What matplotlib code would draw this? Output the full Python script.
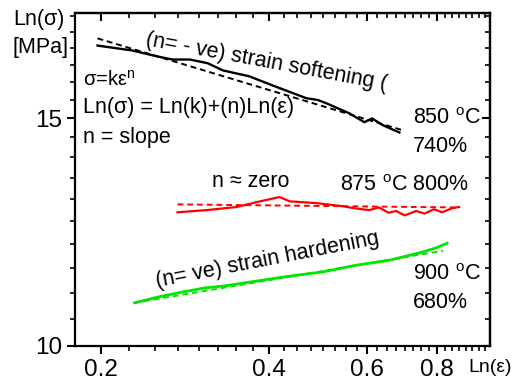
import numpy as np
import matplotlib
matplotlib.use('Agg')
import matplotlib.pyplot as plt
from matplotlib.ticker import NullFormatter

plt.rcParams['font.family'] = ['Liberation Sans', 'DejaVu Sans']

# 850 C / 740 % : strain softening
soft_strain = [0.1975, 0.228, 0.253, 0.269, 0.289, 0.311, 0.331, 0.369, 0.406,
               0.467, 0.49, 0.507, 0.557, 0.593, 0.612, 0.64, 0.685]
soft_stress = [17.08, 16.93, 16.75, 16.66, 16.66, 16.55, 16.34, 16.17, 15.91,
               15.55, 15.5, 15.41, 15.14, 14.9, 15.0, 14.82, 14.63]
soft_fit_strain = [0.1975, 0.69]
soft_fit_stress = [17.3, 14.7]

# 875 C / 800 % : n close to zero
zero_strain = [0.2746, 0.31, 0.35, 0.38, 0.418, 0.436, 0.486, 0.541, 0.57, 0.605,
               0.63, 0.655, 0.676, 0.7, 0.734, 0.76, 0.79, 0.817, 0.85, 0.876]
zero_stress = [12.69, 12.74, 12.81, 12.92, 13.04, 12.94, 12.9, 12.83, 12.78, 12.74,
               12.8, 12.68, 12.72, 12.62, 12.72, 12.66, 12.76, 12.69, 12.78, 12.81]
zero_fit_strain = [0.2746, 0.87]
zero_fit_stress = [12.87, 12.8]

# 900 C / 680 % : strain hardening
hard_strain = [0.23, 0.253, 0.2746, 0.307, 0.333, 0.372, 0.426, 0.499, 0.574,
               0.657, 0.752, 0.797, 0.834]
hard_stress = [10.8, 10.91, 10.99, 11.09, 11.13, 11.21, 11.31, 11.41, 11.55,
               11.65, 11.82, 11.91, 12.01]
hard_fit_strain = [0.23, 0.82]
hard_fit_stress = [10.8, 11.85]

x_ticks = [0.2, 0.4, 0.6, 0.8]
x_labels = ['0.2', '0.4', '0.6', '0.8']
y_ticks = [10, 15]
y_labels = ['10', '15']

W, H = 514, 385
fig = plt.figure(figsize=(W / 100, H / 100), dpi=100)
ax = fig.add_axes([75 / W, 1 - 346 / H, 415 / W, 333 / H])


def px(x, y):
    return x / W, 1 - y / H


ax.plot(soft_strain, soft_stress, color='black', lw=1.7)
ax.plot(soft_fit_strain, soft_fit_stress, color='black', lw=1.4, dashes=(3, 2))
ax.plot(zero_strain, zero_stress, color='#ff0000', lw=1.6)
ax.plot(zero_fit_strain, zero_fit_stress, color='#ff0000', lw=1.4, dashes=(3, 2))
ax.plot(hard_strain, hard_stress, color='#00e600', lw=2.0)
ax.plot(hard_fit_strain, hard_fit_stress, color='#00e600', lw=1.4, dashes=(3, 2))

ax.set_xscale('log')
ax.set_yscale('log')
ax.set_xlim(0.18, 0.995)
ax.set_ylim(10, 18.1)

x_minor = [v for v in np.arange(0.2, 1.0, 0.025) if round(v, 3) not in x_ticks]
y_minor = [v for v in np.arange(10, 18.01, 0.5) if v not in y_ticks]
ax.set_xticks(x_ticks, x_labels)
ax.set_xticks(x_minor, minor=True)
ax.set_yticks(y_ticks, y_labels)
ax.set_yticks(y_minor, minor=True)
ax.xaxis.set_minor_formatter(NullFormatter())
ax.yaxis.set_minor_formatter(NullFormatter())
ax.tick_params(which='major', direction='out', length=6, width=1.5, labelsize=17.5)
ax.tick_params(which='minor', direction='out', length=3.5, width=1.2)

for s in ax.spines.values():
    s.set_linewidth(1.6)

# inward ticks on the top and right frame
top = ax.secondary_xaxis('top')
top.set_xticks(x_ticks)
top.set_xticks(x_minor, minor=True)
right = ax.secondary_yaxis('right')
right.set_yticks(y_ticks)
right.set_yticks(y_minor, minor=True)
for sec, axis in ((top, top.xaxis), (right, right.yaxis)):
    axis.set_major_formatter(NullFormatter())
    axis.set_minor_formatter(NullFormatter())
    sec.tick_params(which='major', direction='in', length=6, width=1.5)
    sec.tick_params(which='minor', direction='in', length=3.5, width=1.2)
    for s in sec.spines.values():
        s.set_linewidth(1.6)

fs = 15.5
fig.text(*px(13, 20), 'Ln(σ)', fontsize=15.5, va='center')
fig.text(*px(13, 47), '[MPa]', fontsize=15.5, va='center')
fig.text(*px(468, 367), 'Ln(ε)', fontsize=14, va='center')

fig.text(*px(83, 80), r'σ=kε$^{\mathregular{n}}$', fontsize=14.5, va='center')
fig.text(*px(83, 108), 'Ln(σ) = Ln(k)+(n)Ln(ε)', fontsize=fs, va='center')
fig.text(*px(83, 137), 'n = slope', fontsize=fs, va='center')
fig.text(*px(145, 45), '(n= - ve) strain softening (', fontsize=fs,
         rotation=-10.5, rotation_mode='anchor', ha='left', va='baseline')

fig.text(*px(413, 118), r'850 $^{\mathregular{o}}$C', fontsize=fs, va='center')
fig.text(*px(413, 146), '740%', fontsize=fs, va='center')

fig.text(*px(212, 182), 'n ≈ zero', fontsize=fs, va='center')
fig.text(*px(340, 186), r'875 $^{\mathregular{o}}$C 800%', fontsize=fs, va='center')

fig.text(*px(157, 287), '(n= ve) strain hardening', fontsize=fs,
         rotation=11, rotation_mode='anchor', ha='left', va='baseline')
fig.text(*px(413, 275), r'900 $^{\mathregular{o}}$C', fontsize=fs, va='center')
fig.text(*px(413, 303), '680%', fontsize=fs, va='center')

fig.savefig('out.png', dpi=100)
